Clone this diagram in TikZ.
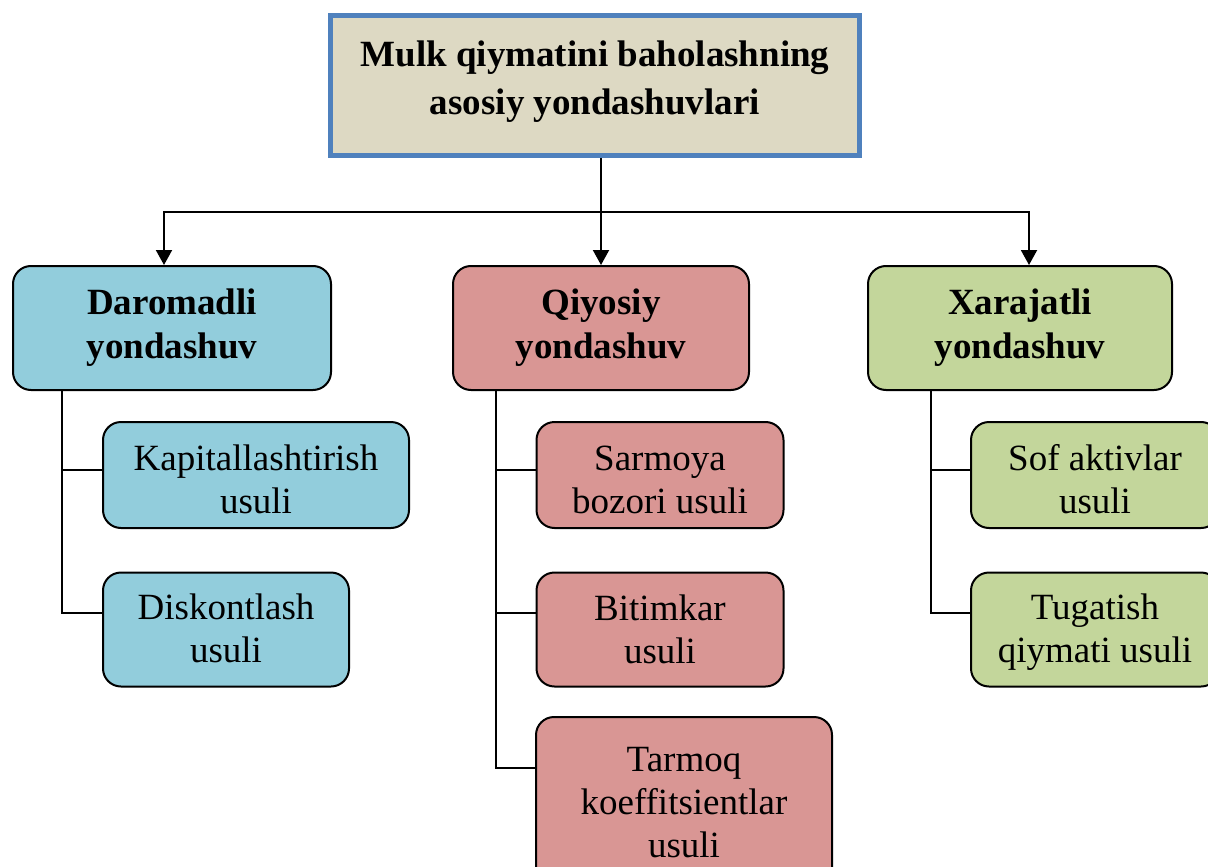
\documentclass[tikz,border=0pt]{standalone}
\usepackage{fontspec}
\setmainfont{Liberation Serif}
\usetikzlibrary{arrows.meta}
\definecolor{titlefill}{RGB}{221,217,195}
\definecolor{titleline}{RGB}{79,129,189}
\definecolor{incomefill}{RGB}{146,205,220}
\definecolor{marketfill}{RGB}{217,150,148}
\definecolor{costfill}{RGB}{195,214,155}

\begin{document}
\begin{tikzpicture}[x=0.5pt,y=-0.5pt,>={Triangle[length=7.5pt,width=8pt]},line width=1pt,
  top node/.style={draw=titleline,fill=titlefill,line width=2.5pt,align=center,inner sep=0pt,minimum width=264.5pt,minimum height=70pt,text depth=8pt,font=\fontsize{18.5}{24}\selectfont\bfseries},
  head node/.style={draw,rounded corners=9pt,align=center,inner sep=0pt,minimum height=62pt,font=\fontsize{18.5}{22}\selectfont\bfseries},
  sub node/.style={draw,rounded corners=9pt,align=center,inner sep=0pt,text height=38pt,text depth=0pt,font=\fontsize{18.5}{21.5}\selectfont}]

            \useasboundingbox (0,0) rectangle (1208,866);
            \clip (0,0) rectangle (1208,866);

            \node[top node] (top) at (595,85.5) {Mulk qiymatini baholashning\\asosiy yondashuvlari};

            \node[head node, fill=incomefill, minimum width=159pt] (dar) at (172,328) {Daromadli\\yondashuv};
            \node[head node, fill=marketfill, minimum width=148pt] (qiy) at (601,328) {Qiyosiy\\yondashuv};
            \node[head node, fill=costfill, minimum width=152pt] (xar) at (1020,328) {Xarajatli\\yondashuv};

            \node[sub node, fill=incomefill, minimum width=153pt, minimum height=53pt] (kap) at (256,475) {Kapitallashtirish\\usuli};
            \node[sub node, fill=incomefill, minimum width=123pt, minimum height=57pt, text height=33pt] (dis) at (226,629.5) {Diskontlash\\usuli};

            \node[sub node, fill=marketfill, minimum width=123.5pt, minimum height=53pt] (sar) at (660,475) {Sarmoya\\bozori usuli};
            \node[sub node, fill=marketfill, minimum width=123.5pt, minimum height=57pt, text height=34pt] (bit) at (660,629.5) {Bitimkar\\usuli};
            \node[sub node, fill=marketfill, minimum width=148pt, minimum height=87pt, text height=53pt] (tar) at (684,804) {Tarmoq\\koeffitsientlar\\usuli};

            \node[sub node, fill=costfill, minimum width=124pt, minimum height=53pt] (sof) at (1095,475) {Sof aktivlar\\usuli};
            \node[sub node, fill=costfill, minimum width=124pt, minimum height=57pt, text height=33pt] (tug) at (1095,629.5) {Tugatish\\qiymati usuli};

            % top level
            \coordinate (bar) at (601,212);
            \draw[->] (top.south -| qiy.north) to (qiy.north);
            \draw[->] (bar) -| ([xshift=-4pt]dar.north);
            \draw[->] (bar) -| ([xshift=4.5pt]xar.north);

            % methods
            \draw ([xshift=25pt]dar.south west) |- ([yshift=2.5pt]kap.west);
            \draw ([xshift=25pt]dar.south west) |- ([yshift=8.25pt]dis.west);
            \draw ([xshift=22pt]qiy.south west) |- ([yshift=2.5pt]sar.west);
            \draw ([xshift=22pt]qiy.south west) |- ([yshift=8.25pt]bit.west);
            \draw ([xshift=22pt]qiy.south west) |- ([yshift=18pt]tar.west);
            \draw ([xshift=32pt]xar.south west) |- ([yshift=2.5pt]sof.west);
            \draw ([xshift=32pt]xar.south west) |- ([yshift=8.25pt]tug.west);

            ;
        \end{tikzpicture}
\end{document}
